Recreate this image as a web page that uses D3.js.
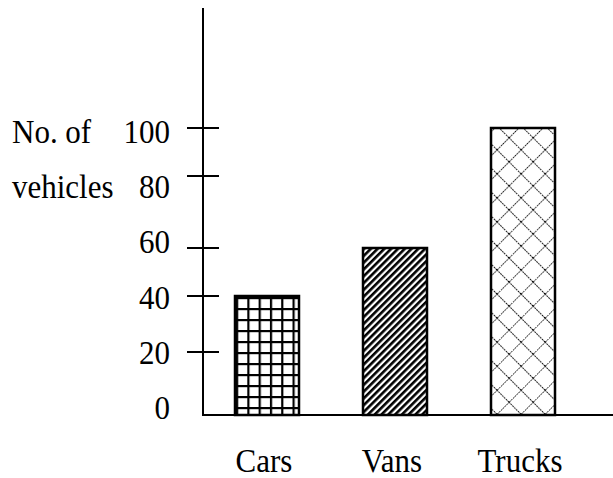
<!DOCTYPE html>
<html>
<head>
<meta charset="utf-8">
<script src="https://cdn.jsdelivr.net/npm/d3@7"></script>
<style>
  body { margin: 0; background: #fff; }
  text { font-family: "Liberation Serif", "Times New Roman", serif; font-size: 31px; fill: #000; }
</style>
</head>
<body>
<svg width="613" height="478"></svg>
<script>
// Data
const categories = ["Cars", "Vans", "Trucks"];
const counts = [40, 60, 100];
const patterns = ["grid", "stripes", "lattice"];
const tickValues = [0, 20, 40, 60, 80, 100];
const tickLabels = ["0", "20", "40", "60", "80", "100"];
const yTitle = ["No. of", "vehicles"];

const svg = d3.select("svg");

// Scales (the original figure is hand drawn, so tick spacing is uneven)
const x = d3.scaleBand()
    .domain(categories)
    .range([203, 587])
    .paddingInner(0.5)
    .paddingOuter(0.25);

const y = d3.scaleLinear()
    .domain(tickValues)
    .range([415, 352, 296, 248, 176, 128]);

// tick labels sit on a regular spacing of their own
const yLabel = d3.scaleLinear()
    .domain([0, 100])
    .range([408, 132]);

// text in the original is a little taller than it is wide
const place = (px, py) => `translate(${px},${py}) scale(1,1.07)`;

// Fill patterns
const defs = svg.append("defs");

const grid = defs.append("pattern")
    .attr("id", "grid")
    .attr("patternUnits", "userSpaceOnUse")
    .attr("x", x("Cars") + 1)
    .attr("y", y(40) + 1)
    .attr("width", 11.3)
    .attr("height", 11);
grid.append("rect").attr("width", 11.3).attr("height", 11).attr("fill", "#fff");
grid.append("rect").attr("x", 0).attr("width", 2.2).attr("height", 11).attr("fill", "#000");
grid.append("rect").attr("y", 0).attr("width", 11.3).attr("height", 2.2).attr("fill", "#000");

const stripes = defs.append("pattern")
    .attr("id", "stripes")
    .attr("patternUnits", "userSpaceOnUse")
    .attr("width", 4.8)
    .attr("height", 10)
    .attr("patternTransform", "rotate(45)");
stripes.append("rect").attr("width", 4.8).attr("height", 10).attr("fill", "#fff");
stripes.append("rect").attr("width", 2.6).attr("height", 10).attr("fill", "#000");

const lattice = defs.append("pattern")
    .attr("id", "lattice")
    .attr("patternUnits", "userSpaceOnUse")
    .attr("x", x("Trucks"))
    .attr("y", y(100))
    .attr("width", 17)
    .attr("height", 17)
    .attr("patternTransform", "rotate(45)");
lattice.append("rect").attr("width", 17).attr("height", 17).attr("fill", "#fff");
lattice.append("line").attr("x1", 0).attr("y1", 0).attr("x2", 17).attr("y2", 0)
    .attr("stroke", "#000").attr("stroke-width", 1.8).attr("stroke-dasharray", "1.6,1");
lattice.append("line").attr("x1", 0).attr("y1", 0).attr("x2", 0).attr("y2", 17)
    .attr("stroke", "#000").attr("stroke-width", 1.8).attr("stroke-dasharray", "1.6,1");

// Bars
svg.selectAll(".bar")
    .data(categories)
    .enter()
    .append("rect")
    .attr("class", "bar")
    .attr("x", d => x(d))
    .attr("y", (d, i) => y(counts[i]))
    .attr("width", x.bandwidth())
    .attr("height", (d, i) => y(0) - y(counts[i]))
    .attr("fill", (d, i) => `url(#${patterns[i]})`)
    .attr("stroke", "#000")
    .attr("stroke-width", 2.5);

// Axes
svg.append("line")
    .attr("x1", 203).attr("x2", 203)
    .attr("y1", 8).attr("y2", y(0) + 1)
    .attr("stroke", "#000").attr("stroke-width", 2);

svg.append("line")
    .attr("x1", 202).attr("x2", 613)
    .attr("y1", y(0)).attr("y2", y(0))
    .attr("stroke", "#000").attr("stroke-width", 2);

// Tick marks cross the axis
svg.selectAll(".tick")
    .data(tickValues.filter(v => v > 0))
    .enter()
    .append("line")
    .attr("class", "tick")
    .attr("x1", 187).attr("x2", 219)
    .attr("y1", d => y(d)).attr("y2", d => y(d))
    .attr("stroke", "#000").attr("stroke-width", 2);

svg.selectAll(".tick-label")
    .data(tickValues)
    .enter()
    .append("text")
    .attr("class", "tick-label")
    .attr("transform", d => place(170, yLabel(d) + 11))
    .attr("text-anchor", "end")
    .text((d, i) => tickLabels[i]);

// Category labels
svg.selectAll(".cat-label")
    .data(categories)
    .enter()
    .append("text")
    .attr("class", "cat-label")
    .attr("transform", d => place(x(d) + x.bandwidth() / 2 - 3, 472))
    .attr("text-anchor", "middle")
    .text(d => d);

// Axis title, two lines beside the 100 and 80 labels
svg.selectAll(".y-title")
    .data(yTitle)
    .enter()
    .append("text")
    .attr("class", "y-title")
    .attr("transform", (d, i) => place(12, yLabel(100 - i * 20) + 11))
    .text(d => d);
</script>
</body>
</html>
